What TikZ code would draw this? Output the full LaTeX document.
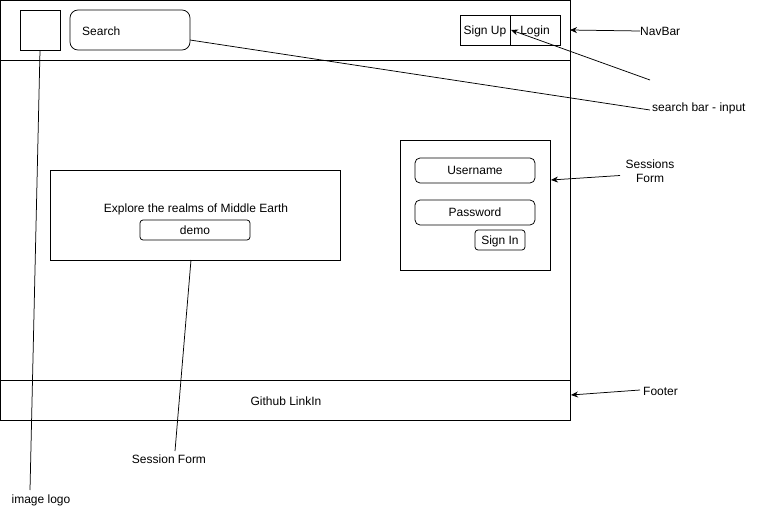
\documentclass[tikz,border=0pt]{standalone}
\usepackage{fontspec}
\setmainfont{Liberation Sans}
\usetikzlibrary{arrows.meta}
\begin{document}
\begin{tikzpicture}[x=1pt,y=-1pt,
  font=\fontsize{12}{14}\selectfont,
  box/.style={draw,line width=0.75pt,text depth=0pt},
  rbox/.style={draw,line width=0.75pt,rounded corners=5pt,text depth=0pt},
  lbl/.style={inner sep=0pt},
  lead/.style={line width=0.75pt},
  pointer/.style={line width=0.75pt,-{Stealth[length=7pt,width=6pt]}}]
\useasboundingbox (0,0) rectangle (761,511);
% page frame with header and footer bands
\draw[box] (0,0) rectangle (570,420);
\draw[box] (0,60) -- (570,60);
\draw[box] (0,380) -- (570,380);
% header contents
\node[box,minimum width=40pt,minimum height=40pt,inner sep=0pt] (logo) at (40,30) {};
\node[rbox,rounded corners=8pt,minimum width=120pt,minimum height=40pt,inner sep=0pt] (search) at (130,30) {};
\node[lbl,anchor=west] at (82,31) {Search};
\node[box,minimum width=50pt,minimum height=30pt,inner sep=0pt] (signup) at (485,30) {Sign Up};
\node[box,minimum width=50pt,minimum height=30pt,inner sep=0pt] (login) at (535,30) {Login};
% hero panel
\node[box,minimum width=290pt,minimum height=90pt,inner sep=0pt] (hero) at (195,215) {};
\node[lbl] (explore) at (196,209) {Explore the realms of Middle Earth};
\node[rbox,rounded corners=3pt,minimum width=110pt,minimum height=20pt,inner sep=0pt] (demo) at (195,230) {demo};
% sign-in panel
\node[box,minimum width=150pt,minimum height=130pt,inner sep=0pt] (session) at (475,205) {};
\node[rbox,minimum width=120pt,minimum height=25pt,inner sep=0pt] (user) at (475,170.5) {Username};
\node[rbox,minimum width=120pt,minimum height=25pt,inner sep=0pt] (pass) at (475,212.5) {Password};
\node[rbox,rounded corners=3pt,minimum width=50pt,minimum height=20pt,inner sep=0pt] (signin) at (500,240) {Sign In};
% footer
\node[lbl] (github) at (286,401) {Github LinkIn};
% annotations
\node[lbl,anchor=west] (navlbl) at (640,31) {NavBar};
\node[lbl,anchor=west] (searchlbl) at (652,108) {search bar - input};
\node[lbl,align=center] (sesslbl) at (650,171) {Sessions\\Form};
\node[lbl,anchor=west] (footlbl) at (643,391) {Footer};
\node[lbl] (sformlbl) at (169,459) {Session Form};
\node[lbl] (logolbl) at (41,500) {image logo};
\coordinate (navend) at (570,30);
\coordinate (loginpt) at (511,30);
\coordinate (loginsrc) at (650,80);
\coordinate (searchsrc) at (190,40);
\coordinate (searchend) at (650,110);
\coordinate (sessend) at (551,180);
\coordinate (sesssrc) at (620,175.5);
\coordinate (footsrc) at (640,390);
\coordinate (footend) at (571,395);
\coordinate (herosrc) at (191,260);
\coordinate (herodst) at (175,451);
\coordinate (logodst) at (30,490);
\draw[pointer] (navlbl.west) -- (navend);
\draw[pointer] (loginsrc) -- (loginpt);
\draw[lead] (searchsrc) -- (searchend);
\draw[pointer] (sesssrc) -- (sessend);
\draw[pointer] (footsrc) -- (footend);
\draw[lead] (herosrc) -- (herodst);
\draw[lead] (logo.south) -- (logodst);
\end{tikzpicture}
\end{document}
